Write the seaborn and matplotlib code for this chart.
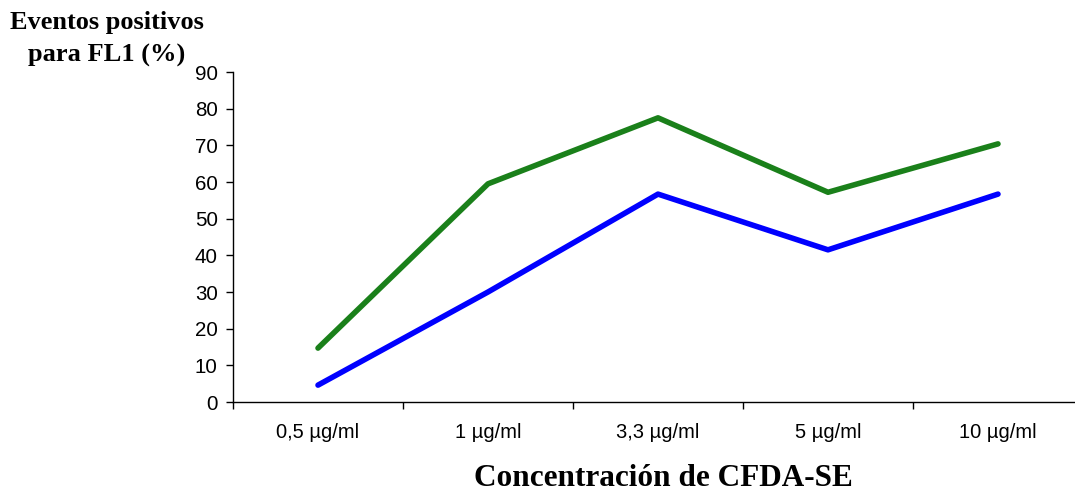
import numpy as np
import pandas as pd
import matplotlib.pyplot as plt
import seaborn as sns

# values
concentrations = ["0,5 µg/ml", "1 µg/ml", "3,3 µg/ml", "5 µg/ml", "10 µg/ml"]
green_values = [14.7, 59.5, 77.5, 57.2, 70.4]
blue_values = [4.6, 30.0, 56.7, 41.5, 56.7]
y_ticks = [0, 10, 20, 30, 40, 50, 60, 70, 80, 90]

df = pd.DataFrame({
    "Concentracion": concentrations * 2,
    "Porcentaje": green_values + blue_values,
    "Serie": ["verde"] * len(green_values) + ["azul"] * len(blue_values),
})

sns.set_style("white")
plt.rcParams["font.family"] = ["Liberation Sans", "DejaVu Sans"]

fig = plt.figure(figsize=(10.75, 4.99), dpi=100)
ax = fig.add_axes([233 / 1075, 1 - 402 / 499, 850 / 1075, 330 / 499])

sns.lineplot(
    data=df, x="Concentracion", y="Porcentaje", hue="Serie",
    palette={"verde": "#1a801a", "azul": "#0000ff"},
    linewidth=4, sort=False, legend=False, ax=ax,
)

ax.set_xlim(-0.5, len(concentrations) - 0.5)
ax.set_ylim(0, 90)
ax.set_yticks(y_ticks)
ax.set_xticks(range(len(concentrations)))
ax.set_xticklabels(concentrations)
ax.set_xticks(np.arange(-0.5, len(concentrations), 1.0), minor=True)
ax.tick_params(axis="x", which="major", bottom=True, length=0, pad=15, labelsize=14.5)
ax.tick_params(axis="x", which="minor", bottom=True, length=5, width=1, direction="out")
ax.tick_params(axis="y", left=True, length=5, width=1, direction="out", labelsize=14.8, pad=6)
ax.tick_params(axis="both", which="both", colors="black", labelcolor="black")

for side in ["top", "right"]:
    ax.spines[side].set_visible(False)
for side in ["left", "bottom"]:
    ax.spines[side].set_color("black")
    ax.spines[side].set_linewidth(1)

ax.set_xlabel("")
ax.set_ylabel("")

serif = ["Liberation Serif", "DejaVu Serif"]
fig.text(107 / 1075, 1 - 22 / 499, "Eventos positivos", ha="center", va="center",
         fontsize=19, fontweight="bold", family=serif, color="black")
fig.text(107 / 1075, 1 - 55 / 499, "para FL1 (%)", ha="center", va="center",
         fontsize=19, fontweight="bold", family=serif, color="black")
fig.text(663 / 1075, 1 - 478 / 499, "Concentración de CFDA-SE", ha="center", va="center",
         fontsize=22.5, fontweight="bold", family=serif, color="black")

fig.savefig("out.png", dpi=100)
